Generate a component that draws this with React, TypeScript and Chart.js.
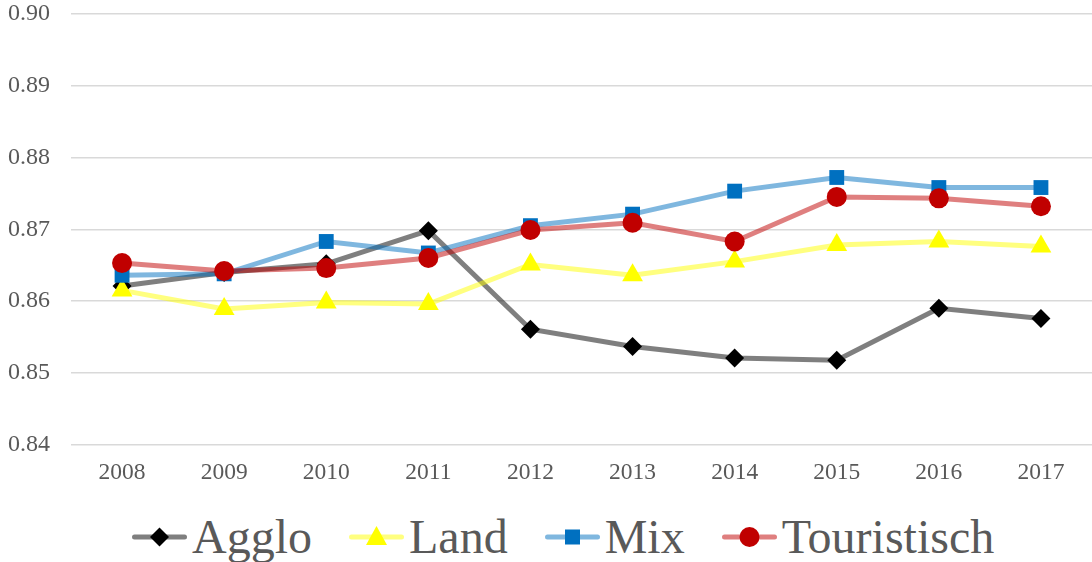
import React, { useEffect, useRef } from "react";
import { Chart, registerables } from "chart.js";

Chart.register(...registerables);

const years = ["2008", "2009", "2010", "2011", "2012", "2013", "2014", "2015", "2016", "2017"];
const agglo = [0.8621, 0.864, 0.8652, 0.8698, 0.8561, 0.8537, 0.8521, 0.8518, 0.859, 0.8576];
const land = [0.8615, 0.8589, 0.8598, 0.8596, 0.8651, 0.8636, 0.8655, 0.8678, 0.8683, 0.8676];
const mix = [0.8636, 0.8638, 0.8683, 0.8667, 0.8705, 0.8721, 0.8753, 0.8772, 0.8758, 0.8758];
const touristisch = [0.8653, 0.8642, 0.8646, 0.866, 0.8699, 0.8709, 0.8683, 0.8745, 0.8743, 0.8732];
const seriesNames = ["Agglo", "Land", "Mix", "Touristisch"];
const yMin = 0.84;
const yMax = 0.9;
const yStep = 0.01;

const markerColors = ["#000000", "#FFFF00", "#0070C0", "#C00000"];
const lineColors = ["rgba(0,0,0,0.5)", "rgba(255,255,0,0.5)", "rgba(0,112,192,0.5)", "rgba(192,0,0,0.5)"];
const pointStyles = ["rectRot", "triangle", "rect", "circle"];
const pointRadii = [9.5, 12, 10.5, 10];
const seriesData = [agglo, land, mix, touristisch];

const FONT = "'Liberation Serif', 'Times New Roman', serif";
const TEXT = "#595959";

function LegendMarker({ i }: { i: number }) {
  const c = markerColors[i];
  let shape: React.ReactNode = null;
  if (i === 0) shape = <polygon points="27.5,1.5 37,11 27.5,20.5 18,11" fill={c} />;
  if (i === 1) shape = <polygon points="27.5,0 38,19 17,19" fill={c} />;
  if (i === 2) shape = <rect x={20} y={3.5} width={15} height={15} fill={c} />;
  if (i === 3) shape = <circle cx={27.5} cy={11} r={10} fill={c} />;
  return (
    <svg width={55} height={22} style={{ display: "block", overflow: "visible" }}>
      <line x1={2.5} y1={11} x2={52.5} y2={11} stroke={lineColors[i]} strokeWidth={5} strokeLinecap="round" />
      {shape}
    </svg>
  );
}

export default function App() {
  const canvasRef = useRef<HTMLCanvasElement | null>(null);

  useEffect(() => {
    const ctx = canvasRef.current;
    if (!ctx) return;
    const chart = new Chart(ctx, {
      type: "line",
      data: {
        labels: years,
        datasets: seriesNames.map((name, i) => ({
          label: name,
          data: seriesData[i],
          borderColor: lineColors[i],
          backgroundColor: markerColors[i],
          borderWidth: 5,
          pointStyle: pointStyles[i] as any,
          pointRadius: pointRadii[i],
          pointHoverRadius: pointRadii[i],
          pointBackgroundColor: markerColors[i],
          pointBorderColor: markerColors[i],
          pointBorderWidth: 0,
          tension: 0,
          fill: false,
          clip: false as any,
          order: seriesNames.length - 1 - i,
        })),
      },
      options: {
        animation: false,
        responsive: false,
        maintainAspectRatio: false,
        layout: { autoPadding: false, padding: { left: 8, top: 13.5, right: 0, bottom: 0 } },
        plugins: {
          legend: { display: false },
          tooltip: { enabled: false },
        },
        scales: {
          x: {
            offset: true,
            grid: { display: false, drawTicks: false },
            border: { display: false },
            ticks: { color: TEXT, font: { family: FONT, size: 23.5 }, padding: 14 },
            afterFit: (s: any) => {
              s.height = 55;
              s.paddingLeft = 0;
              s.paddingRight = 0;
            },
          },
          y: {
            min: yMin,
            max: yMax,
            grid: { color: "#D9D9D9", lineWidth: 1.5, drawTicks: false },
            border: { display: false },
            ticks: {
              stepSize: yStep,
              color: TEXT,
              font: { family: FONT, size: 24 },
              padding: 21,
              callback: (v: any) => Number(v).toFixed(2),
            },
            afterFit: (s: any) => {
              s.width = 63;
              s.paddingTop = 0;
              s.paddingBottom = 0;
            },
          },
        },
      },
    });
    return () => chart.destroy();
  }, []);

  return (
    <div style={{ position: "fixed", left: 0, top: 0, width: 1092, height: 562, background: "#fff", overflow: "hidden" }}>
      <canvas ref={canvasRef} width={1092} height={500} style={{ position: "absolute", left: 0, top: 0, width: 1092, height: 500 }} />
      <div
        style={{
          position: "absolute",
          left: 132,
          top: 513,
          height: 48,
          display: "flex",
          alignItems: "center",
          fontFamily: FONT,
          fontSize: 48,
          lineHeight: "48px",
          color: TEXT,
          whiteSpace: "nowrap",
        }}
      >
        {seriesNames.map((name, i) => (
          <div key={name} style={{ display: "flex", alignItems: "center", marginRight: 37 }}>
            <LegendMarker i={i} />
            <span style={{ marginLeft: 5 }}>{name}</span>
          </div>
        ))}
      </div>
    </div>
  );
}
